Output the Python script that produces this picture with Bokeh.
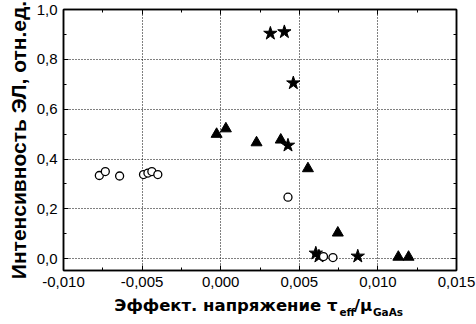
from bokeh.plotting import figure
from bokeh.models import (ColumnDataSource, FixedTicker, LinearAxis, Range1d,
                          Label, Title, CustomJSTickFormatter)
from bokeh.layouts import column
from bokeh.embed import file_html
from bokeh.resources import INLINE

# ---- data ----
circle_x = [-0.00772, -0.00734, -0.00643, -0.00491, -0.00463, -0.00438, -0.00400, 0.00428, 0.00654, 0.00714]
circle_y = [0.334, 0.350, 0.332, 0.338, 0.344, 0.350, 0.338, 0.247, 0.009, 0.005]

star_x = [0.00316, 0.00405, 0.00462, 0.00428, 0.00605, 0.00625, 0.00872]
star_y = [0.904, 0.910, 0.705, 0.455, 0.022, 0.010, 0.010]

tri_x = [-0.00026, 0.00033, 0.00228, 0.00382, 0.00555, 0.00745, 0.01130, 0.01195]
tri_y = [0.500, 0.522, 0.466, 0.477, 0.362, 0.104, 0.007, 0.007]

x_ticks = [-0.010, -0.005, 0.0, 0.005, 0.010, 0.015]
x_tick_labels = ["-0,010", "-0,005", "0,000", "0,005", "0,010", "0,015"]
x_minor = [-0.0075, -0.0025, 0.0025, 0.0075, 0.0125]
y_ticks = [0.0, 0.2, 0.4, 0.6, 0.8, 1.0]
y_tick_labels = ["0,0", "0,2", "0,4", "0,6", "0,8", "1,0"]
y_minor = [0.1, 0.3, 0.5, 0.7, 0.9]

y_title = "Интенсивность ЭЛ, отн.ед."
x_title_parts = ["Эффект. напряжение τ", "eff", "/μ", "GaAs"]

FONT = "Liberation Sans"
TFONT = "DejaVu Sans"

p = figure(width=476, height=294, output_backend="svg", toolbar_location=None,
           x_range=Range1d(-0.010, 0.015), y_range=Range1d(-0.047, 1.0),
           min_border_left=61, min_border_right=20, min_border_top=9, min_border_bottom=24,
           background_fill_color="white", border_fill_color="white")
p.outline_line_color = "black"
p.outline_line_width = 1.5
p.outline_line_alpha = 1.0

xt = FixedTicker(ticks=x_ticks, minor_ticks=x_minor)
yt = FixedTicker(ticks=y_ticks, minor_ticks=y_minor)

def style_axis(ax, ticker, labels=None):
    ax.ticker = ticker
    ax.axis_line_color = "black"
    ax.axis_line_width = 1.5
    ax.major_tick_line_color = "black"
    ax.minor_tick_line_color = "black"
    ax.major_tick_in = 5
    ax.major_tick_out = 0
    ax.minor_tick_in = 3
    ax.minor_tick_out = 0
    if labels is None:
        ax.formatter = CustomJSTickFormatter(code="return ''")
        ax.major_label_text_font_size = "0px"
        ax.major_label_standoff = 0
    else:
        ax.major_label_overrides = labels
        ax.major_label_text_font = FONT
        ax.major_label_text_font_size = "15px"
        ax.major_label_text_color = "black"
        ax.major_label_standoff = 6

style_axis(p.xaxis[0], xt, dict(zip(x_ticks, x_tick_labels)))
style_axis(p.yaxis[0], yt, dict(zip(y_ticks, y_tick_labels)))

ax_top = LinearAxis()
style_axis(ax_top, xt)
p.add_layout(ax_top, "above")
ax_right = LinearAxis()
style_axis(ax_right, yt)
p.add_layout(ax_right, "right")

for g in (p.xgrid[0], p.ygrid[0]):
    g.grid_line_color = "black"
    g.grid_line_dash = "1 2"
    g.grid_line_width = 1
    g.grid_line_alpha = 1.0

tri_src = ColumnDataSource(dict(x=tri_x, y=tri_y))
star_src = ColumnDataSource(dict(x=star_x, y=star_y))
circ_src = ColumnDataSource(dict(x=circle_x, y=circle_y))

p.scatter("x", "y", source=tri_src, marker="triangle", size=11,
          fill_color="black", line_color="black")
p.scatter("x", "y", source=star_src, marker="star", size=14,
          fill_color="black", line_color="black")
p.scatter("x", "y", source=circ_src, marker="circle", size=8,
          fill_color="white", line_color="black", line_width=1.3)

# y title as a side title on the left
p.add_layout(Title(text=y_title, align="center", standoff=8,
                   text_font=FONT, text_font_style="bold", text_font_size="21px",
                   text_color="black"), "left")

# x title (with subscripts) in a thin strip figure below the chart
pb = figure(width=476, height=30, output_backend="svg", toolbar_location=None,
            x_range=Range1d(0, 476), y_range=Range1d(0, 30),
            x_axis_type=None, y_axis_type=None,
            min_border=0, min_border_left=0, min_border_right=0,
            min_border_top=0, min_border_bottom=0,
            background_fill_color="white", border_fill_color="white")
pb.outline_line_color = None
pb.xgrid.visible = False
pb.ygrid.visible = False

# (x, y, size, align) in pixels from the strip's frame bottom-left corner
x_parts_pos = [(274, 19.3, 16.5, "right"), (276, 13, 10.5, "left"),
               (290.5, 19.3, 16.5, "left"), (309.5, 13, 10.5, "left")]
for txt, (lx, ly, fs, al) in zip(x_title_parts, x_parts_pos):
    pb.add_layout(Label(x=lx, y=ly, x_units="screen", y_units="screen", text=txt,
                        text_align=al, text_baseline="alphabetic",
                        text_font=TFONT, text_font_style="bold", text_font_size=f"{fs}px",
                        text_color="black"))

layout = column(p, pb, spacing=0)
open("out.html", "w").write(file_html(layout, INLINE))
